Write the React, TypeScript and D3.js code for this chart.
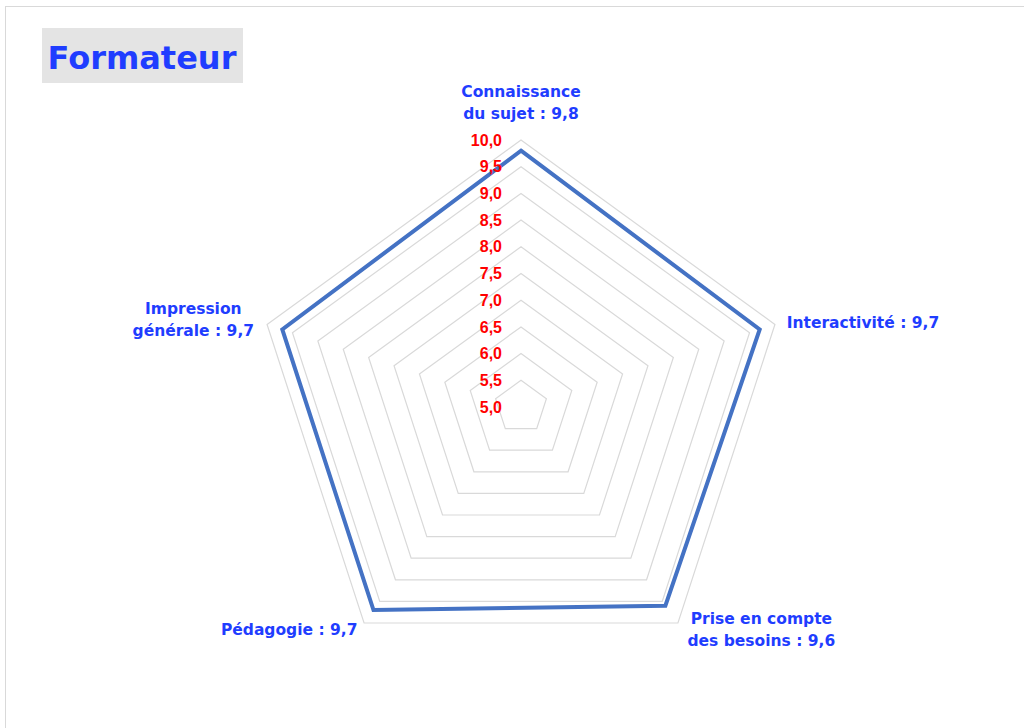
import React from "react";
import { scaleLinear, lineRadial, curveLinearClosed, range } from "d3";

const width = 1024;
const height = 728;
const cx = 521;
const cy = 407;
const outerRadius = 267;

const categories = [
  ["Connaissance", "du sujet : 9,8"],
  ["Interactivité : 9,7"],
  ["Prise en compte", "des besoins : 9,6"],
  ["Pédagogie : 9,7"],
  ["Impression", "générale : 9,7"],
];
const values = [9.8, 9.7, 9.6, 9.7, 9.7];
const ticks = [5.0, 5.5, 6.0, 6.5, 7.0, 7.5, 8.0, 8.5, 9.0, 9.5, 10.0];

// label anchors (offsets from each vertex, hand placed like the Excel layout)
const labelStyle = [
  { dx: 0, dy: -48, anchor: "middle" },
  { dx: 27, dy: -7, anchor: "start" },
  { dx: 96, dy: 24, anchor: "middle" },
  { dx: -16, dy: 20, anchor: "end" },
  { dx: -89, dy: -10, anchor: "middle" },
];

const rScale = scaleLinear().domain([5, 10]).range([0, outerRadius]);
const angle = (i: number) => (i * 2 * Math.PI) / categories.length;

const gridLine = (v: number) =>
  lineRadial<number>()
    .angle((_, i) => angle(i))
    .radius(() => rScale(v))
    .curve(curveLinearClosed)(range(categories.length));

const dataLine = lineRadial<number>()
  .angle((_, i) => angle(i))
  .radius((d) => rScale(d))
  .curve(curveLinearClosed);

const blue = "#1f3dff";
const font = "'DejaVu Sans', sans-serif";

const App = () => (
  <svg
    width={width}
    height={height}
    style={{ position: "absolute", left: 0, top: 0, background: "#fff" }}
  >
    <rect x={5.5} y={6.5} width={1030} height={740} fill="#fff" stroke="#d9d9d9" />
    <rect x={42} y={28} width={201} height={55} fill="#e4e4e4" />
    <text
      x={142}
      y={69}
      textAnchor="middle"
      fill={blue}
      fontFamily={font}
      fontWeight="bold"
      fontSize={32}
    >
      Formateur
    </text>
    <g transform={`translate(${cx}, ${cy})`}>
      {ticks.slice(1).map((t) => (
        <path key={t} d={gridLine(t) || ""} fill="none" stroke="#d9d9d9" strokeWidth={1.2} />
      ))}
      <path
        d={dataLine(values) || ""}
        fill="none"
        stroke="#4472c4"
        strokeWidth={4}
        strokeLinejoin="miter"
      />
      {ticks.map((t) => (
        <text
          key={t}
          x={-19}
          y={-rScale(t)}
          dy="0.35em"
          textAnchor="end"
          fill="#ff0000"
          fontFamily="'Liberation Sans', sans-serif"
          fontWeight="bold"
          fontSize={16}
        >
          {t.toFixed(1).replace(".", ",")}
        </text>
      ))}
      {categories.map((lines, i) => {
        const r = rScale(values[i]);
        const x = r * Math.sin(angle(i)) + labelStyle[i].dx;
        const y = -r * Math.cos(angle(i)) + labelStyle[i].dy;
        const y0 = y - ((lines.length - 1) * 22) / 2;
        return (
          <text
            key={i}
            y={y0}
            textAnchor={labelStyle[i].anchor}
            fill={blue}
            fontFamily={font}
            fontWeight="bold"
            fontSize={15.5}
          >
            {lines.map((l, j) => (
              <tspan key={j} x={x} dy={j === 0 ? "0.35em" : 22}>
                {l}
              </tspan>
            ))}
          </text>
        );
      })}
    </g>
  </svg>
);

export default App;
